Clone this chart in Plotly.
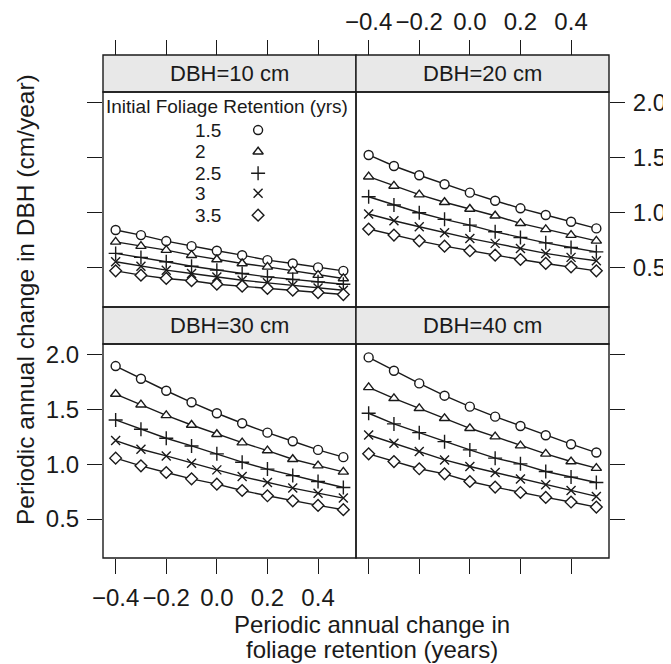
import plotly.graph_objects as go

# ─────────────────────────────────────────────
# Data
# ─────────────────────────────────────────────

X = [-0.4, -0.3, -0.2, -0.1, 0.0, 0.1, 0.2, 0.3, 0.4, 0.5]
RETENTION = ["1.5", "2", "2.5", "3", "3.5"]
PANEL_TITLES = ["DBH=10 cm", "DBH=20 cm", "DBH=30 cm", "DBH=40 cm"]

# one row per initial foliage retention (1.5, 2, 2.5, 3, 3.5 yrs)
DBH10 = [
    [0.843, 0.797, 0.743, 0.697, 0.655, 0.615, 0.570, 0.540, 0.504, 0.473],
    [0.736, 0.697, 0.661, 0.615, 0.576, 0.540, 0.509, 0.473, 0.434, 0.404],
    [0.631, 0.595, 0.555, 0.515, 0.479, 0.449, 0.418, 0.394, 0.373, 0.352],
    [0.555, 0.515, 0.479, 0.449, 0.418, 0.388, 0.364, 0.343, 0.318, 0.297],
    [0.473, 0.434, 0.404, 0.383, 0.352, 0.334, 0.313, 0.297, 0.276, 0.258],
]
DBH20 = [
    [1.524, 1.424, 1.340, 1.258, 1.182, 1.109, 1.040, 0.979, 0.918, 0.858],
    [1.327, 1.243, 1.164, 1.095, 1.034, 0.973, 0.904, 0.849, 0.797, 0.745],
    [1.145, 1.070, 1.000, 0.940, 0.888, 0.827, 0.776, 0.727, 0.685, 0.645],
    [0.988, 0.927, 0.873, 0.818, 0.767, 0.722, 0.676, 0.631, 0.595, 0.564],
    [0.852, 0.797, 0.745, 0.697, 0.655, 0.615, 0.576, 0.540, 0.509, 0.473],
]
DBH30 = [
    [1.894, 1.778, 1.669, 1.564, 1.464, 1.373, 1.287, 1.209, 1.130, 1.064],
    [1.639, 1.542, 1.445, 1.357, 1.273, 1.196, 1.124, 1.045, 0.987, 0.930],
    [1.403, 1.318, 1.236, 1.166, 1.094, 1.018, 0.955, 0.896, 0.842, 0.787],
    [1.215, 1.136, 1.075, 1.009, 0.948, 0.887, 0.833, 0.782, 0.736, 0.691],
    [1.055, 0.985, 0.924, 0.866, 0.818, 0.760, 0.712, 0.666, 0.624, 0.585],
]
DBH40 = [
    [1.973, 1.851, 1.736, 1.624, 1.524, 1.433, 1.348, 1.264, 1.182, 1.106],
    [1.700, 1.600, 1.509, 1.418, 1.327, 1.251, 1.169, 1.094, 1.024, 0.964],
    [1.464, 1.367, 1.287, 1.205, 1.130, 1.055, 1.003, 0.933, 0.882, 0.833],
    [1.266, 1.191, 1.115, 1.039, 0.979, 0.924, 0.864, 0.812, 0.761, 0.706],
    [1.094, 1.024, 0.958, 0.912, 0.842, 0.791, 0.742, 0.697, 0.655, 0.609],
]

X_TICKS = [-0.4, -0.2, 0.0, 0.2, 0.4]
X_TICKTEXT = ["\u22120.4", "\u22120.2", "0.0", "0.2", "0.4"]
Y_TICKS = [0.5, 1.0, 1.5, 2.0]
Y_TICKTEXT = ["0.5", "1.0", "1.5", "2.0"]

# ─────────────────────────────────────────────
# Style
# ─────────────────────────────────────────────

FONT = "Liberation Sans, Arial, Helvetica, sans-serif"
INK = "#1a1a1a"
STRIP_BG = "#e8e8e8"
LW = 1.4

SYMBOLS = ["circle", "triangle-up", "cross-thin", "x-thin", "diamond"]
SIZES = [9, 9, 10, 9, 9]
FILLS = ["white", "white", INK, INK, "white"]

XR = [-0.45, 0.55]
YR = [0.145, 2.095]

# page body adds 8 px around the figure, so the figure is 16 px smaller
FIG_W, FIG_H = 663, 656
ML, MT, MR, MB = 95, 47, 62, 106
PLOT_W = FIG_W - ML - MR
PLOT_H = FIG_H - MT - MB
PAGE_OFF = 8


def px_x(x):
    """screen x (px) -> paper x"""
    return (x - PAGE_OFF - ML) / PLOT_W


def px_y(y):
    """screen y (px) -> paper y"""
    return (FIG_H - MB - (y - PAGE_OFF)) / PLOT_H


TOP_STRIP = [px_y(92), px_y(55)]
TOP_PANEL = [px_y(307), px_y(92)]
BOT_STRIP = [px_y(344), px_y(307)]
BOT_PANEL = [px_y(558), px_y(344)]

fig = go.Figure()

panels = [DBH10, DBH20, DBH30, DBH40]
for p, series in enumerate(panels):
    suffix = "" if p == 0 else str(p + 1)
    for i, ys in enumerate(series):
        fig.add_trace(go.Scatter(
            x=X, y=ys,
            mode="lines+markers",
            xaxis="x" + suffix, yaxis="y" + suffix,
            line=dict(color=INK, width=LW),
            marker=dict(symbol=SYMBOLS[i], size=SIZES[i], color=FILLS[i],
                        line=dict(color=INK, width=LW)),
            showlegend=False, hoverinfo="skip",
        ))

# legend key inside the DBH=10 panel (overlay axis 0..1)
KEY_X_TEXT = 0.356
KEY_X_SYM = 0.613
KEY_Y = [0.823, 0.722, 0.622, 0.529, 0.427]
for i, lab in enumerate(RETENTION):
    fig.add_trace(go.Scatter(
        x=[KEY_X_SYM], y=[KEY_Y[i]], mode="markers",
        xaxis="x5", yaxis="y5",
        marker=dict(symbol=SYMBOLS[i], size=SIZES[i], color=FILLS[i],
                    line=dict(color=INK, width=LW)),
        showlegend=False, hoverinfo="skip",
    ))

xbase = dict(range=XR, tickvals=X_TICKS, ticktext=X_TICKTEXT, ticks="outside",
             ticklen=15, tickwidth=LW, tickcolor=INK, showgrid=False,
             zeroline=False, showline=False, ticklabelstandoff=3, automargin=False,
             tickfont=dict(size=24, color=INK, family=FONT))
ybase = dict(range=YR, tickvals=Y_TICKS, ticktext=Y_TICKTEXT, ticks="outside",
             ticklen=15, tickwidth=LW, tickcolor=INK, showgrid=False,
             zeroline=False, showline=False, ticklabelstandoff=3, automargin=False,
             tickfont=dict(size=24, color=INK, family=FONT))

fig.update_layout(
    xaxis=dict(**xbase, domain=[0, 0.5], anchor="free", position=1.0, side="top", showticklabels=False),
    xaxis2=dict(**{**xbase, "ticklabelstandoff": 0}, domain=[0.5, 1], anchor="free", position=1.0,
                side="top", showticklabels=True),
    xaxis3=dict(**xbase, domain=[0, 0.5], anchor="y3", side="bottom", showticklabels=True),
    xaxis4=dict(**xbase, domain=[0.5, 1], anchor="y4", side="bottom", showticklabels=False),
    yaxis=dict(**ybase, domain=TOP_PANEL, anchor="x", side="left", showticklabels=False),
    yaxis2=dict(**ybase, domain=TOP_PANEL, anchor="x2", side="right", showticklabels=True),
    yaxis3=dict(**ybase, domain=BOT_PANEL, anchor="x3", side="left", showticklabels=True),
    yaxis4=dict(**ybase, domain=BOT_PANEL, anchor="x4", side="right", showticklabels=False),
    xaxis5=dict(domain=[0, 0.5], anchor="y5", range=[0, 1], visible=False),
    yaxis5=dict(domain=TOP_PANEL, anchor="x5", range=[0, 1], visible=False),
)

# strips and panel frames
shapes = []
for (x0, x1) in [(0, 0.5), (0.5, 1)]:
    for strip in (TOP_STRIP, BOT_STRIP):
        shapes.append(dict(type="rect", xref="paper", yref="paper", x0=x0, x1=x1,
                           y0=strip[0], y1=strip[1], fillcolor=STRIP_BG,
                           line=dict(color=INK, width=LW), layer="below"))
    for panel in (TOP_PANEL, BOT_PANEL):
        shapes.append(dict(type="rect", xref="paper", yref="paper", x0=x0, x1=x1,
                           y0=panel[0], y1=panel[1], fillcolor="rgba(0,0,0,0)",
                           line=dict(color=INK, width=LW), layer="above"))

annotations = []
strip_pos = [(0.25, TOP_STRIP), (0.75, TOP_STRIP), (0.25, BOT_STRIP), (0.75, BOT_STRIP)]
for title, (cx, strip) in zip(PANEL_TITLES, strip_pos):
    annotations.append(dict(text=title, xref="paper", yref="paper", x=cx,
                            y=(strip[0] + strip[1]) / 2, xanchor="center", yanchor="middle",
                            showarrow=False, font=dict(size=22, color=INK, family=FONT)))

annotations.append(dict(text="Initial Foliage Retention (yrs)", xref="x5", yref="y5",
                        x=0.492, y=0.932, xanchor="center", yanchor="middle", showarrow=False,
                        font=dict(size=19, color=INK, family=FONT)))
for i, lab in enumerate(RETENTION):
    annotations.append(dict(text=lab, xref="x5", yref="y5", x=KEY_X_TEXT, y=KEY_Y[i],
                            xanchor="left", yanchor="middle", showarrow=False,
                            font=dict(size=19, color=INK, family=FONT)))

annotations.append(dict(text="Periodic annual change in DBH (cm/year)", xref="paper", yref="paper",
                        x=px_x(25), y=px_y(300), xanchor="center", yanchor="middle", textangle=-90,
                        showarrow=False, font=dict(size=24.5, color=INK, family=FONT)))
for line, py in [("Periodic annual change in", 624), ("foliage retention (years)", 649)]:
    annotations.append(dict(text=line, xref="paper", yref="paper", x=px_x(371.5),
                            y=px_y(py), xanchor="center", yanchor="middle",
                            showarrow=False, font=dict(size=24, color=INK, family=FONT)))

fig.update_layout(
    width=FIG_W, height=FIG_H,
    margin=dict(l=ML, r=MR, t=MT, b=MB),
    paper_bgcolor="white", plot_bgcolor="rgba(0,0,0,0)",
    font=dict(family=FONT, color=INK),
    shapes=shapes, annotations=annotations,
    showlegend=False,
)

fig.write_html("out.html")
